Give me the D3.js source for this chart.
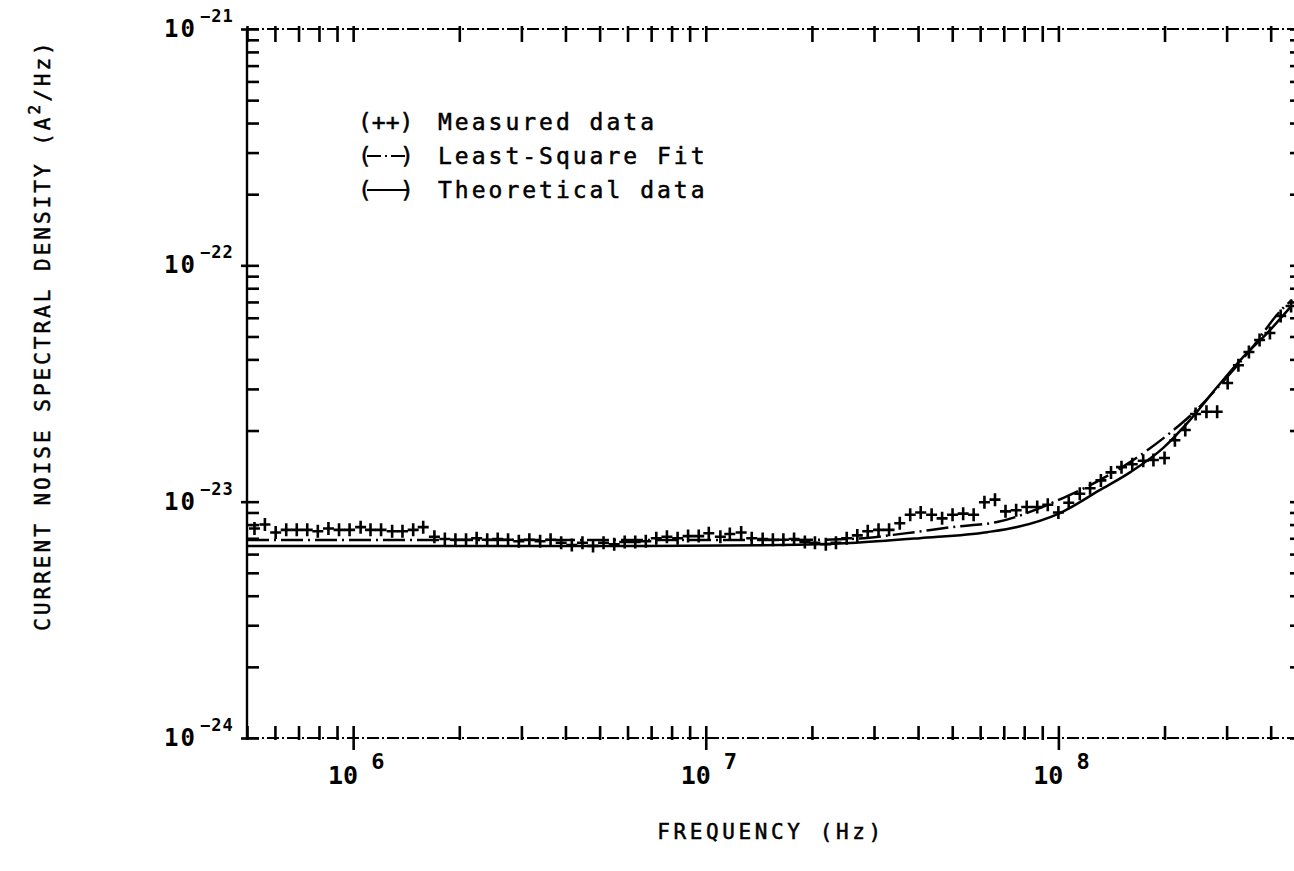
<!DOCTYPE html>
<html>
<head>
<meta charset="utf-8">
<script src="https://cdn.jsdelivr.net/npm/d3@7"></script>
<style>
  body { margin: 0; background: #fff; }
  svg { display: block; }
  text { font-family: "DejaVu Sans Mono", monospace; fill: #000; }
  .pen { stroke: #000; stroke-width: 0.5; }
</style>
</head>
<body>
<svg id="chart" width="1294" height="871"></svg>
<script>
"use strict";

// (++) measured data, frequency in Hz / density in A^2/Hz
const measFreq = [
  5.25e5, 5.62e5, 6.03e5, 6.46e5, 6.92e5, 7.41e5, 7.94e5, 8.51e5, 9.12e5, 9.77e5,
  1.05e6, 1.12e6, 1.20e6, 1.29e6, 1.38e6, 1.48e6, 1.58e6, 1.70e6, 1.82e6, 1.95e6,
  2.09e6, 2.24e6, 2.40e6, 2.57e6, 2.75e6, 2.95e6, 3.16e6, 3.39e6, 3.63e6, 3.89e6,
  4.17e6, 4.47e6, 4.79e6, 5.13e6, 5.50e6, 5.89e6, 6.31e6, 6.76e6, 7.24e6, 7.76e6,
  8.32e6, 8.91e6, 9.55e6, 1.02e7, 1.10e7, 1.17e7, 1.26e7, 1.35e7, 1.45e7, 1.55e7,
  1.66e7, 1.78e7, 1.91e7, 2.04e7, 2.19e7, 2.34e7, 2.51e7, 2.69e7, 2.88e7, 3.09e7,
  3.31e7, 3.55e7, 3.80e7, 4.07e7, 4.37e7, 4.68e7, 5.01e7, 5.37e7, 5.75e7, 6.17e7,
  6.61e7, 7.08e7, 7.59e7, 8.13e7, 8.71e7, 9.33e7, 1.00e8, 1.07e8, 1.15e8, 1.23e8,
  1.32e8, 1.41e8, 1.51e8, 1.62e8, 1.74e8, 1.86e8, 2.00e8, 2.14e8, 2.29e8, 2.45e8,
  2.63e8, 2.82e8, 3.02e8, 3.24e8, 3.47e8, 3.72e8, 3.98e8, 4.27e8, 4.57e8
];
const measValue = [
  7.7e-24, 8.0e-24, 7.4e-24, 7.6e-24, 7.6e-24, 7.6e-24, 7.5e-24, 7.7e-24, 7.6e-24, 7.6e-24,
  7.8e-24, 7.6e-24, 7.6e-24, 7.5e-24, 7.5e-24, 7.6e-24, 7.8e-24, 7.1e-24, 6.95e-24, 6.9e-24,
  6.9e-24, 7.0e-24, 6.9e-24, 6.95e-24, 6.9e-24, 6.8e-24, 6.9e-24, 6.8e-24, 6.9e-24, 6.7e-24,
  6.55e-24, 6.7e-24, 6.5e-24, 6.7e-24, 6.6e-24, 6.75e-24, 6.75e-24, 6.8e-24, 7.0e-24, 7.1e-24,
  7.0e-24, 7.15e-24, 7.15e-24, 7.35e-24, 7.1e-24, 7.3e-24, 7.4e-24, 7.0e-24, 6.95e-24, 6.9e-24,
  6.9e-24, 6.95e-24, 6.75e-24, 6.7e-24, 6.6e-24, 6.7e-24, 7.0e-24, 7.2e-24, 7.5e-24, 7.6e-24,
  7.6e-24, 8.1e-24, 8.8e-24, 9.0e-24, 8.8e-24, 8.5e-24, 8.8e-24, 8.9e-24, 8.8e-24, 9.95e-24,
  1.02e-23, 9.1e-24, 9.2e-24, 9.5e-24, 9.5e-24, 9.7e-24, 9.0e-24, 9.9e-24, 1.08e-23, 1.14e-23,
  1.23e-23, 1.33e-23, 1.40e-23, 1.44e-23, 1.49e-23, 1.50e-23, 1.53e-23, 1.82e-23, 2.01e-23, 2.35e-23,
  2.40e-23, 2.40e-23, 3.18e-23, 3.78e-23, 4.30e-23, 4.83e-23, 5.17e-23, 6.10e-23, 6.73e-23
];

// (-.-) least-square fit
const fitFreq  = [5.0e5, 1.63e7, 2.57e7, 3.72e7, 5.02e7, 6.70e7, 1.03e8, 1.31e8, 1.63e8, 2.07e8, 2.41e8, 3.01e8, 3.50e8, 4.34e8, 4.60e8];
const fitValue = [6.88e-24, 6.88e-24, 6.95e-24, 7.36e-24, 7.81e-24, 8.2e-24, 1.036e-23, 1.234e-23, 1.50e-23, 1.95e-23, 2.37e-23, 3.37e-23, 4.38e-23, 6.60e-23, 7.13e-23];

// (---) theoretical data
const theoFreq  = [5.0e5, 5.0e6, 1.63e7, 2.57e7, 4.05e7, 6.28e7, 7.64e7, 1.01e8, 1.31e8, 1.60e8, 1.98e8, 2.36e8, 2.82e8, 3.34e8, 3.91e8, 4.60e8];
const theoValue = [6.49e-24, 6.49e-24, 6.55e-24, 6.68e-24, 7.01e-24, 7.43e-24, 7.81e-24, 8.95e-24, 1.119e-23, 1.334e-23, 1.686e-23, 2.214e-23, 3.055e-23, 4.09e-23, 5.17e-23, 6.79e-23];

const xTickExp = [6, 7, 8];
const yTickExp = [-21, -22, -23, -24];
const legendSymbols = ["(++)", "fit", "theo"];
const legendLabels = ["Measured data", "Least-Square Fit", "Theoretical data"];

const svg = d3.select("#chart");

const x = d3.scaleLog().domain([5e5, 4.75e8]).range([247, 1297]);
const y = d3.scaleLog().domain([1e-24, 1e-21]).range([738, 29]);
const [xl, xr] = x.range();
const [yb, yt] = y.range();

const isMajor = v => Math.abs(Math.log10(v) - Math.round(Math.log10(v))) < 1e-6;

// frame
const frame = svg.append("g").attr("stroke", "#000").attr("fill", "none");
frame.append("line").attr("x1", xl).attr("x2", xl).attr("y1", yt).attr("y2", yb).attr("stroke-width", 2.4);
frame.append("line").attr("x1", xl).attr("x2", xr).attr("y1", yt).attr("y2", yt)
  .attr("stroke-width", 1.8).attr("stroke-dasharray", "12,3,2,3");
frame.append("line").attr("x1", xl).attr("x2", xr).attr("y1", yb).attr("y2", yb)
  .attr("stroke-width", 1.8).attr("stroke-dasharray", "12,3,2,3");

// ticks, pointing into the plot
const tickStyle = g => g.selectAll(".tick line").attr("stroke", "#000").attr("stroke-width", 2.6);

svg.append("g").attr("transform", `translate(0,${yb})`)
  .call(d3.axisTop(x).tickValues(x.ticks()).tickSize(12).tickFormat(""))
  .call(g => g.select(".domain").remove())
  .call(tickStyle)
  .call(g => g.selectAll(".tick line").attr("y1", d => isMajor(d) ? 12 : 2));

svg.append("g").attr("transform", `translate(0,${yt})`)
  .call(d3.axisBottom(x).tickValues(x.ticks()).tickSize(13).tickFormat(""))
  .call(g => g.select(".domain").remove())
  .call(tickStyle)
  .call(g => g.selectAll(".tick line").attr("y1", -3));

svg.append("g").attr("transform", `translate(${xl},0)`)
  .call(d3.axisRight(y).tickValues(y.ticks()).tickSize(12).tickFormat(""))
  .call(g => g.select(".domain").remove())
  .call(tickStyle)
  .call(g => g.selectAll(".tick line").attr("x1", d => isMajor(d) ? -6 : -1));

svg.append("g").attr("transform", `translate(${xr},0)`)
  .call(d3.axisLeft(y).tickValues(y.ticks()).tickSize(7).tickFormat(""))
  .call(g => g.select(".domain").remove())
  .call(tickStyle);

// x tick labels
const xl10 = svg.append("g").selectAll("g").data(xTickExp).join("g");
xl10.append("text")
  .attr("x", d => x(Math.pow(10, d)) + 5).attr("y", 784)
  .attr("text-anchor", "end").attr("font-size", 25).attr("font-weight", "bold")
  .text("10");
xl10.append("text")
  .attr("x", d => x(Math.pow(10, d)) + 18).attr("y", 769)
  .attr("font-size", 22).attr("font-weight", "bold")
  .text(d => d);

// y tick labels
const yl10 = svg.append("g").selectAll("g").data(yTickExp).join("g");
yl10.append("text")
  .attr("x", 164).attr("y", d => y(Math.pow(10, d)) + 8)
  .attr("font-size", 24).attr("font-weight", "bold").attr("letter-spacing", 2)
  .text("10");
yl10.append("text")
  .attr("x", 200).attr("y", d => y(Math.pow(10, d)) - 7)
  .attr("font-size", 17).attr("font-weight", "bold").attr("letter-spacing", 1)
  .text(d => "\u2212" + Math.abs(d));

// axis titles
const yTitle = svg.append("text").attr("class", "pen")
  .attr("transform", "translate(50,335) rotate(-90)")
  .attr("text-anchor", "middle").attr("font-size", 21).attr("letter-spacing", 3);
yTitle.append("tspan").text("CURRENT NOISE SPECTRAL DENSITY (A");
yTitle.append("tspan").attr("dy", -10).attr("font-size", 16).text("2");
yTitle.append("tspan").attr("dy", 10).text("/Hz)");

svg.append("text").attr("class", "pen")
  .attr("x", 771).attr("y", 839).attr("text-anchor", "middle")
  .attr("font-size", 21).attr("letter-spacing", 3.6)
  .text("FREQUENCY (Hz)");

// curves
const pts = (fs, vs) => fs.map((f, i) => ({ f: f, v: vs[i] }));
const line = d3.line().x(d => x(d.f)).y(d => y(d.v)).curve(d3.curveMonotoneX);

svg.append("path").datum(pts(theoFreq, theoValue))
  .attr("d", line).attr("fill", "none").attr("stroke", "#000").attr("stroke-width", 2.5);

svg.append("path").datum(pts(fitFreq, fitValue))
  .attr("d", line).attr("fill", "none").attr("stroke", "#000").attr("stroke-width", 2.5)
  .attr("stroke-dasharray", "22,5,2,5");

// measured crosses
svg.append("g").selectAll("path").data(pts(measFreq, measValue)).join("path")
  .attr("d", d => {
    const cx = x(d.f), cy = y(d.v);
    return `M${cx - 5.5},${cy}h11M${cx},${cy - 6.5}v13`;
  })
  .attr("stroke", "#000").attr("stroke-width", 2.6).attr("fill", "none");

// legend
const leg = svg.append("g").selectAll("g").data(legendLabels).join("g")
  .attr("transform", (d, i) => `translate(358,${130 + i * 34})`);
leg.append("text").attr("class", "pen").attr("x", 80)
  .attr("font-size", 23).attr("letter-spacing", 3).text(d => d);
leg.each(function(d, i) {
  const g = d3.select(this);
  if (legendSymbols[i] === "(++)") {
    g.append("text").attr("class", "pen").attr("font-size", 23).text("(++)");
  } else {
    g.append("text").attr("class", "pen").attr("font-size", 23).text("(");
    g.append("text").attr("class", "pen").attr("x", 42).attr("font-size", 23).text(")");
    g.append("line").attr("x1", 9).attr("x2", 50).attr("y1", -8).attr("y2", -8)
      .attr("stroke", "#000").attr("stroke-width", 2.2)
      .attr("stroke-dasharray", legendSymbols[i] === "fit" ? "14,4,2,4" : null);
  }
});
</script>
</body>
</html>
